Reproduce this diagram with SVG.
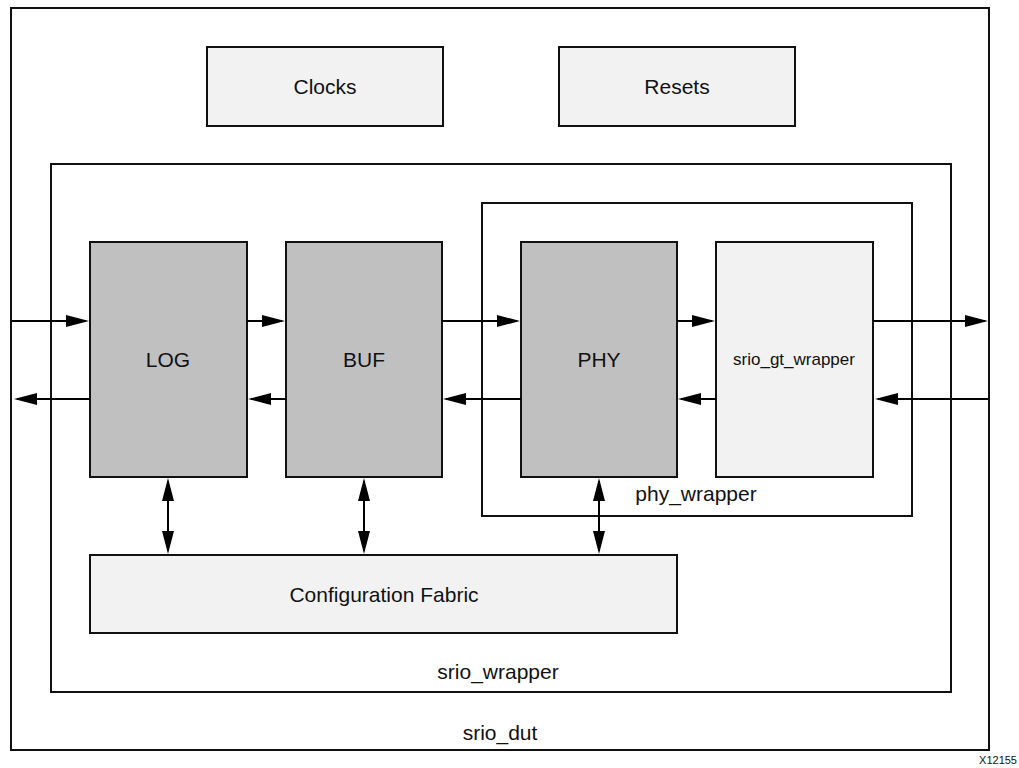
<svg xmlns="http://www.w3.org/2000/svg" width="1019" height="768" viewBox="0 0 1019 768">
<style>
.box{stroke:#111;stroke-width:2;}
.cont{fill:#ffffff;}
.light{fill:#f2f2f2;}
.dark{fill:#c0c0c0;}
.lbl{font-family:"Liberation Sans",Arial,sans-serif;font-size:21px;fill:#111;text-anchor:middle;}
.small{font-size:17px;}
.conn{stroke:#000;stroke-width:2;fill:none;}
</style>
<defs>
<marker id="ah" markerUnits="userSpaceOnUse" markerWidth="23" markerHeight="12" viewBox="0 0 23 12" refX="20" refY="6" orient="auto-start-reverse">
<path d="M0,0 L23,6 L0,12 z" fill="#000"/>
</marker>
</defs>
<rect width="1019" height="768" fill="#fff"/>
<g id="srio_dut">
<rect class="box cont" x="11" y="8" width="978" height="742"/>
<text class="lbl" x="500" y="740">srio_dut</text>
</g>
<g id="clocks">
<rect class="box light" x="207" y="47" width="236" height="79"/>
<text class="lbl" x="325" y="94">Clocks</text>
</g>
<g id="resets">
<rect class="box light" x="559" y="47" width="236" height="79"/>
<text class="lbl" x="677" y="94">Resets</text>
</g>
<g id="srio_wrapper">
<rect class="box cont" x="51" y="164" width="900" height="528"/>
<text class="lbl" x="498" y="679">srio_wrapper</text>
</g>
<g id="phy_wrapper">
<rect class="box cont" x="482" y="203" width="430" height="313"/>
<text class="lbl" x="696" y="501">phy_wrapper</text>
</g>
<g id="log">
<rect class="box dark" x="90" y="242" width="157" height="235"/>
<text class="lbl" x="168" y="367">LOG</text>
</g>
<g id="buf">
<rect class="box dark" x="286" y="242" width="156" height="235"/>
<text class="lbl" x="364" y="367">BUF</text>
</g>
<g id="phy">
<rect class="box dark" x="521" y="242" width="156" height="235"/>
<text class="lbl" x="599" y="367">PHY</text>
</g>
<g id="srio_gt_wrapper">
<rect class="box light" x="716" y="242" width="157" height="235"/>
<text class="lbl small" x="794" y="365">srio_gt_wrapper</text>
</g>
<g id="config_fabric">
<rect class="box light" x="90" y="555" width="587" height="78"/>
<text class="lbl" x="384" y="602">Configuration Fabric</text>
</g>
<g id="connectors">
<path class="conn" d="M11,321 H86" marker-end="url(#ah)"/>
<path class="conn" d="M247,321 H282" marker-end="url(#ah)"/>
<path class="conn" d="M442,321 H517" marker-end="url(#ah)"/>
<path class="conn" d="M677,321 H712" marker-end="url(#ah)"/>
<path class="conn" d="M873,321 H985" marker-end="url(#ah)"/>
<path class="conn" d="M989,399 H878" marker-end="url(#ah)"/>
<path class="conn" d="M716,399 H681" marker-end="url(#ah)"/>
<path class="conn" d="M521,399 H446" marker-end="url(#ah)"/>
<path class="conn" d="M286,399 H251" marker-end="url(#ah)"/>
<path class="conn" d="M90,399 H17" marker-end="url(#ah)"/>
<path class="conn" d="M168,481 V551" marker-start="url(#ah)" marker-end="url(#ah)"/>
<path class="conn" d="M364,481 V551" marker-start="url(#ah)" marker-end="url(#ah)"/>
<path class="conn" d="M599,481 V551" marker-start="url(#ah)" marker-end="url(#ah)"/>
</g>
<text x="1017" y="764" style="font-family:'Liberation Sans',Arial,sans-serif;font-size:11px;fill:#111;text-anchor:end">X12155</text>
</svg>
